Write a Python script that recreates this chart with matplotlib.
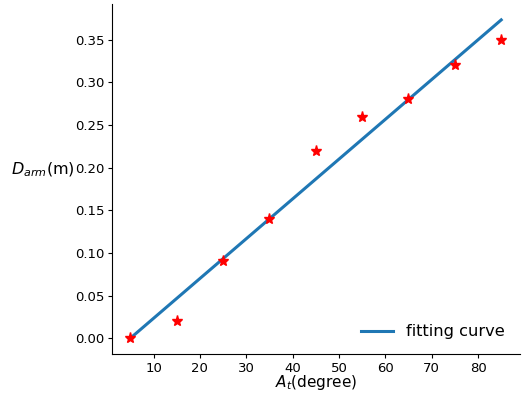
import matplotlib.pyplot as plt
import numpy as np

# measured points
angle = np.array([5, 15, 25, 35, 45, 55, 65, 75, 85])
d_arm = np.array([0.00, 0.02, 0.09, 0.14, 0.22, 0.26, 0.28, 0.32, 0.35])

# linear fit through the points
coef = np.polyfit(angle, d_arm, 1)
fit = np.polyval(coef, angle)

fig = plt.figure(figsize=(5.25, 3.97), dpi=100)
ax = fig.add_axes([0.213, 0.108, 0.777, 0.882])

ax.plot(angle, fit, "-", color="#1f77b4", lw=2.2, label="fitting curve")
ax.plot(angle, d_arm, "*", color="red", ms=8, zorder=3)

ax.spines["top"].set_visible(False)
ax.spines["right"].set_visible(False)
ax.tick_params(labelsize=9.5, length=3, pad=2.5)

ax.set_xlabel("$A_t$(degree)", fontsize=11, labelpad=-1)
ax.set_ylabel("$D_{arm}$(m)", fontsize=11.5, rotation=0)
ax.yaxis.set_label_coords(-0.168, 0.5)

ax.legend(loc="lower right", frameon=False, fontsize=11.7)

fig.savefig("out.png", dpi=100)
